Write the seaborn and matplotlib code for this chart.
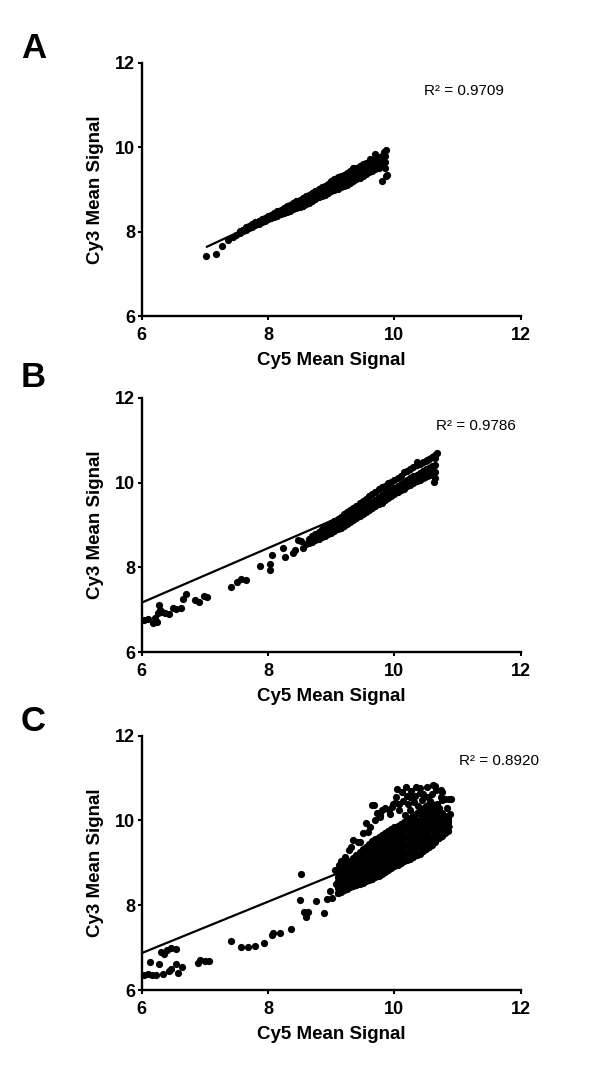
import matplotlib
matplotlib.use("Agg")
import matplotlib.pyplot as plt
import seaborn as sns
import pandas as pd

# ---------------- Panel A ----------------
a_band_cy5 = [7.55, 7.60, 7.65, 7.70, 7.75, 7.80, 7.85, 7.90, 7.95, 8.00,
              8.05, 8.10, 8.15, 8.20, 8.25, 8.30, 8.35, 8.40, 8.45, 8.50,
              8.55, 8.60, 8.65, 8.70, 8.75, 8.80, 8.85, 8.90, 8.95, 9.00,
              9.05, 9.10, 9.15, 9.20, 9.25, 9.30, 9.35, 9.40, 9.45, 9.50,
              9.55, 9.60, 9.65, 9.70, 9.75, 9.80, 9.85]
a_band_lo = [7.97, 8.01, 8.05, 8.08, 8.12, 8.15, 8.18, 8.22, 8.26, 8.29,
             8.32, 8.35, 8.38, 8.41, 8.45, 8.47, 8.50, 8.53, 8.56, 8.59,
             8.62, 8.66, 8.69, 8.73, 8.77, 8.81, 8.85, 8.88, 8.92, 8.96,
             8.99, 9.02, 9.05, 9.08, 9.11, 9.15, 9.19, 9.24, 9.28, 9.33,
             9.37, 9.41, 9.44, 9.48, 9.52, 9.55, 9.50]
a_band_mid = [7.99, 8.03, 8.07, 8.11, 8.15, 8.18, 8.22, 8.26, 8.30, 8.33,
              8.36, 8.40, 8.43, 8.47, 8.50, 8.53, 8.57, 8.60, 8.63, 8.67,
              8.70, 8.73, 8.77, 8.81, 8.85, 8.88, 8.92, 8.96, 9.00, 9.04,
              9.08, 9.12, 9.15, 9.19, 9.23, 9.29, 9.32, 9.36, 9.40, 9.45,
              9.49, 9.53, 9.56, 9.60, 9.64, 9.67, 9.65]
a_band_hi = [8.01, 8.05, 8.10, 8.14, 8.18, 8.22, 8.26, 8.30, 8.33, 8.36,
             8.40, 8.44, 8.48, 8.52, 8.56, 8.60, 8.63, 8.67, 8.72, 8.76,
             8.80, 8.84, 8.87, 8.91, 8.96, 9.01, 9.05, 9.09, 9.14, 9.21,
             9.25, 9.27, 9.31, 9.35, 9.40, 9.44, 9.47, 9.51, 9.56, 9.60,
             9.63, 9.66, 9.70, 9.73, 9.77, 9.79, 9.80]
a_extra_cy5 = [7.02, 7.18, 7.28, 7.36, 7.45, 7.50, 9.81, 9.88, 9.86, 9.87,
               9.69, 9.84, 9.62, 9.35, 9.10]
a_extra_cy3 = [7.43, 7.47, 7.67, 7.80, 7.88, 7.93, 9.19, 9.35, 9.33, 9.93,
               9.85, 9.88, 9.72, 9.52, 9.30]
a_fit_cy5 = [7.03, 9.85]
a_fit_cy3 = [7.64, 9.60]

# ---------------- Panel B ----------------
b_band_cy5 = [8.65, 8.70, 8.75, 8.80, 8.85, 8.90, 8.95, 9.00, 9.05, 9.10,
              9.15, 9.20, 9.25, 9.30, 9.35, 9.40, 9.45, 9.50, 9.55, 9.60,
              9.65, 9.70, 9.75, 9.80, 9.85, 9.90, 9.95, 10.00, 10.05, 10.10,
              10.15, 10.20, 10.25, 10.30, 10.35, 10.40, 10.45, 10.50, 10.55, 10.60, 10.65]
b_band_lo = [8.58, 8.61, 8.65, 8.68, 8.71, 8.74, 8.78, 8.82, 8.86, 8.90,
             8.94, 8.98, 9.03, 9.08, 9.12, 9.17, 9.22, 9.27, 9.31, 9.35,
             9.40, 9.44, 9.49, 9.53, 9.58, 9.63, 9.68, 9.72, 9.77, 9.82,
             9.86, 9.91, 9.95, 9.99, 10.03, 10.07, 10.11, 10.15, 10.18, 10.22, 10.26]
b_band_mid = [8.63, 8.67, 8.72, 8.76, 8.80, 8.85, 8.89, 8.93, 8.97, 9.02,
              9.07, 9.11, 9.16, 9.21, 9.25, 9.30, 9.35, 9.40, 9.45, 9.50,
              9.55, 9.60, 9.65, 9.70, 9.75, 9.79, 9.84, 9.88, 9.93, 9.97,
              10.02, 10.06, 10.11, 10.15, 10.19, 10.23, 10.28, 10.32, 10.35, 10.38, 10.42]
b_band_hi = [8.68, 8.73, 8.79, 8.84, 8.90, 8.96, 9.01, 9.05, 9.10, 9.15,
             9.20, 9.26, 9.31, 9.36, 9.41, 9.46, 9.52, 9.57, 9.62, 9.68,
             9.73, 9.78, 9.84, 9.89, 9.93, 9.98, 10.02, 10.07, 10.12, 10.16,
             10.24, 10.28, 10.33, 10.37, 10.41, 10.45, 10.49, 10.52, 10.56, 10.60, 10.64]
b_extra_cy5 = [6.04, 6.10, 6.18, 6.21, 6.24, 6.26, 6.27, 6.29, 6.32, 6.37,
               6.44, 6.50, 6.55, 6.63, 6.66, 6.71, 6.84, 6.91, 6.99, 7.04,
               7.42, 7.51, 7.58, 7.65, 7.88, 8.03, 8.03, 8.07, 8.27, 8.23,
               8.40, 8.43, 8.53, 8.48, 8.56, 8.60,
               10.62, 10.64, 10.67, 10.64, 10.51, 10.35]
b_extra_cy3 = [6.76, 6.78, 6.68, 6.82, 6.72, 6.92, 7.11, 6.99, 6.95, 6.92,
               6.90, 7.04, 7.01, 7.04, 7.25, 7.37, 7.23, 7.19, 7.33, 7.31,
               7.55, 7.65, 7.72, 7.70, 8.03, 8.07, 7.95, 8.29, 8.25, 8.45,
               8.33, 8.40, 8.63, 8.64, 8.47, 8.55,
               10.02, 10.10, 10.69, 10.57, 10.53, 10.49]
b_fit_cy5 = [6.00, 10.65]
b_fit_cy3 = [7.17, 10.16]

# ---------------- Panel C ----------------
c_core_cy5 = [9.10, 9.15, 9.20, 9.25, 9.30, 9.35, 9.40, 9.45, 9.50, 9.55,
              9.60, 9.65, 9.70, 9.75, 9.80, 9.85, 9.90, 9.95, 10.00, 10.05,
              10.10, 10.15, 10.20, 10.25, 10.30, 10.35, 10.40, 10.45, 10.50, 10.55,
              10.60, 10.65, 10.70, 10.75, 10.80, 10.85]
c_core_l1 = [8.30, 8.32, 8.35, 8.38, 8.42, 8.45, 8.48, 8.50, 8.53, 8.57,
             8.60, 8.63, 8.66, 8.70, 8.74, 8.78, 8.82, 8.87, 8.92, 8.96,
             9.00, 9.04, 9.07, 9.10, 9.14, 9.18, 9.22, 9.27, 9.32, 9.37,
             9.42, 9.50, 9.58, 9.64, 9.70, 9.76]
c_core_l2 = [8.40, 8.44, 8.47, 8.50, 8.54, 8.57, 8.62, 8.65, 8.69, 8.73,
             8.77, 8.81, 8.84, 8.88, 8.92, 8.96, 9.01, 9.06, 9.11, 9.15,
             9.19, 9.23, 9.26, 9.30, 9.34, 9.38, 9.42, 9.47, 9.53, 9.57,
             9.62, 9.68, 9.73, 9.77, 9.80, 9.84]
c_core_l3 = [8.50, 8.55, 8.58, 8.62, 8.67, 8.71, 8.76, 8.80, 8.85, 8.89,
             8.94, 8.98, 9.02, 9.06, 9.10, 9.15, 9.19, 9.24, 9.29, 9.33,
             9.37, 9.42, 9.45, 9.50, 9.54, 9.58, 9.62, 9.67, 9.73, 9.78,
             9.82, 9.86, 9.88, 9.90, 9.90, 9.90]
c_core_l4 = [8.58, 8.65, 8.70, 8.75, 8.80, 8.85, 8.90, 8.95, 9.00, 9.06,
             9.11, 9.16, 9.20, 9.25, 9.29, 9.33, 9.38, 9.43, 9.48, 9.52,
             9.56, 9.61, 9.64, 9.69, 9.73, 9.78, 9.82, 9.88, 9.94, 9.98,
             10.01, 10.03, 10.02, 10.02, 9.98, 9.96]
c_core_l5 = [8.66, 8.76, 8.82, 8.88, 8.93, 8.98, 9.04, 9.10, 9.16, 9.22,
             9.28, 9.34, 9.39, 9.43, 9.47, 9.52, 9.56, 9.61, 9.66, 9.70,
             9.74, 9.79, 9.83, 9.88, 9.92, 9.97, 10.02, 10.08, 10.14, 10.18,
             10.21, 10.20, 10.14, 10.12, 10.04, 10.01]
c_core_l6 = [8.75, 8.86, 8.95, 9.00, 9.05, 9.12, 9.18, 9.25, 9.32, 9.38,
             9.45, 9.51, 9.57, 9.61, 9.65, 9.70, 9.75, 9.80, 9.85, 9.88,
             9.92, 9.97, 10.02, 10.07, 10.12, 10.17, 10.22, 10.28, 10.35, 10.38,
             10.40, 10.35, 10.25, 10.18, 10.10, 10.05]
# in-between columns of the dense core
c_mid_cy5 = [9.125, 9.225, 9.325, 9.425, 9.525, 9.625, 9.725, 9.825, 9.925,
             10.025, 10.125, 10.225, 10.325, 10.425, 10.525, 10.625, 10.725, 10.825]
c_mid_m1 = [8.36, 8.42, 8.49, 8.56, 8.63, 8.70, 8.77, 8.85, 8.94,
            9.04, 9.12, 9.18, 9.26, 9.34, 9.45, 9.55, 9.68, 9.78]
c_mid_m2 = [8.47, 8.54, 8.62, 8.70, 8.79, 8.88, 8.95, 9.03, 9.12,
            9.22, 9.30, 9.38, 9.46, 9.54, 9.65, 9.75, 9.82, 9.86]
c_mid_m3 = [8.57, 8.66, 8.76, 8.85, 8.95, 9.05, 9.13, 9.22, 9.31,
            9.41, 9.49, 9.57, 9.66, 9.75, 9.86, 9.93, 9.96, 9.94]
c_mid_m4 = [8.66, 8.79, 8.89, 9.00, 9.11, 9.22, 9.32, 9.40, 9.49,
            9.59, 9.67, 9.76, 9.85, 9.95, 10.06, 10.11, 10.08, 10.00]
c_mid_m5 = [8.76, 8.91, 9.02, 9.14, 9.27, 9.40, 9.50, 9.58, 9.68,
            9.77, 9.85, 9.95, 10.04, 10.15, 10.26, 10.29, 10.17, 10.05]
c_extra_cy5 = [6.04, 6.10, 6.16, 6.23, 6.14, 6.28, 6.34, 6.30, 6.36, 6.40,
               6.47, 6.55, 6.44, 6.46, 6.55, 6.58, 6.64, 6.90, 6.92, 7.00,
               7.07, 7.42, 7.57, 7.69, 7.79, 7.94, 8.06, 8.08, 8.19, 8.37,
               8.51, 8.53, 8.57, 8.60, 8.64, 8.76, 8.89, 8.93, 9.01, 8.98,
               9.06, 9.13, 9.11, 9.08,
               10.04, 10.18, 10.34, 10.41, 10.51, 10.61, 10.73, 10.87, 10.76, 10.31,
               9.98, 9.80, 9.65, 9.77, 9.92, 10.07, 10.17, 10.55, 10.79, 10.70,
               10.58, 9.35, 9.72, 10.01, 10.64, 10.75, 10.90, 10.83, 9.59, 9.46,
               9.32, 9.68, 10.25, 10.45, 10.12, 10.22,
               9.70, 9.78, 9.85, 9.93, 9.96, 10.03, 10.08, 10.13, 10.20, 10.24,
               10.27, 10.33, 10.38, 10.40, 10.44, 10.47, 10.53, 10.57, 10.60, 10.66,
               10.68, 10.74, 10.80, 10.84, 10.88, 9.62, 9.55, 9.50, 9.42, 9.28,
               9.22, 9.15]
c_extra_cy3 = [6.35, 6.39, 6.36, 6.35, 6.67, 6.62, 6.39, 6.90, 6.86, 6.94,
               6.98, 6.96, 6.45, 6.49, 6.61, 6.41, 6.54, 6.64, 6.72, 6.69,
               6.69, 7.16, 7.01, 7.01, 7.04, 7.12, 7.30, 7.35, 7.34, 7.44,
               8.12, 8.73, 7.85, 7.73, 7.85, 8.11, 7.82, 8.14, 8.18, 8.34,
               8.83, 8.95, 8.28, 8.50,
               10.74, 10.78, 10.78, 10.76, 10.78, 10.84, 10.72, 10.50, 10.48, 10.44,
               10.40, 10.24, 10.36, 10.09, 10.24, 10.24, 10.12, 10.09, 10.09, 10.29,
               9.46, 9.55, 10.17, 10.42, 10.81, 10.68, 10.50, 10.05, 9.73, 9.50,
               9.38, 10.36, 10.55, 10.62, 10.66, 10.40,
               10.00, 10.12, 10.30, 10.15, 10.32, 10.55, 10.38, 10.47, 10.58, 10.25,
               10.70, 10.58, 10.35, 10.65, 10.48, 10.30, 10.55, 10.45, 10.62, 10.72,
               10.40, 10.55, 10.50, 10.30, 10.15, 9.85, 9.95, 9.70, 9.50, 9.30,
               9.15, 9.05]
c_fit_cy5 = [6.00, 10.91]
c_fit_cy3 = [6.87, 9.85]

r2_labels = ["R\u00b2 = 0.9709", "R\u00b2 = 0.9786", "R\u00b2 = 0.8920"]
r2_pos = [(10.47, 11.23), (10.66, 11.25), (11.02, 11.31)]
panel_letters = ["A", "B", "C"]


def stack(xs, *ys_lists):
    cy5, cy3 = [], []
    for ys in ys_lists:
        cy5 += list(xs)
        cy3 += list(ys)
    return cy5, cy3


sns.set_style("ticks", {"axes.edgecolor": "black", "xtick.color": "black",
                        "ytick.color": "black", "text.color": "black",
                        "axes.labelcolor": "black"})
plt.rcParams['font.family'] = ['Liberation Sans', 'DejaVu Sans']

fig = plt.figure(figsize=(6, 10.8), dpi=100)
rects = [[0.236, 0.7074, 0.632, 0.2343],
         [0.236, 0.3960, 0.632, 0.2357],
         [0.236, 0.0833, 0.632, 0.2355]]

a5, a3 = stack(a_band_cy5, a_band_lo, a_band_mid, a_band_hi)
b5, b3 = stack(b_band_cy5, b_band_lo, b_band_mid, b_band_hi)
c5, c3 = stack(c_core_cy5, c_core_l1, c_core_l2, c_core_l3, c_core_l4, c_core_l5, c_core_l6)
m5, m3 = stack(c_mid_cy5, c_mid_m1, c_mid_m2, c_mid_m3, c_mid_m4, c_mid_m5)
panels = [
    (a5 + a_extra_cy5, a3 + a_extra_cy3, a_fit_cy5, a_fit_cy3),
    (b5 + b_extra_cy5, b3 + b_extra_cy3, b_fit_cy5, b_fit_cy3),
    (c5 + m5 + c_extra_cy5, c3 + m3 + c_extra_cy3, c_fit_cy5, c_fit_cy3),
]
letter_y = [0.9463, 0.6417, 0.3231]

for i, (x, y, fx, fy) in enumerate(panels):
    ax = fig.add_axes(rects[i])
    df = pd.DataFrame({'Cy5': x, 'Cy3': y})
    sns.scatterplot(data=df, x='Cy5', y='Cy3', ax=ax, color='black', s=27,
                    linewidth=0, clip_on=False, zorder=3)
    sns.lineplot(x=fx, y=fy, ax=ax, color='black', linewidth=1.6, zorder=4)
    ax.set_xlim(6, 12)
    ax.set_ylim(6, 12)
    ax.set_xticks([6, 8, 10, 12])
    ax.set_yticks([6, 8, 10, 12])
    sns.despine(ax=ax)
    for sp in ['left', 'bottom']:
        ax.spines[sp].set_linewidth(1.7)
    ax.tick_params(axis='both', direction='out', length=2.8, width=1.5,
                   labelsize=13)
    ax.tick_params(axis='x', pad=5)
    ax.tick_params(axis='y', pad=2)
    for lab in ax.get_xticklabels() + ax.get_yticklabels():
        lab.set_fontweight('bold')
    ax.set_xlabel('Cy5 Mean Signal', fontsize=13.5, fontweight='bold', labelpad=6)
    ax.set_ylabel('Cy3 Mean Signal', fontsize=13.5, fontweight='bold', labelpad=8)
    ax.text(r2_pos[i][0], r2_pos[i][1], r2_labels[i], fontsize=11,
            ha='left', va='baseline', clip_on=False)
    fig.text(0.035, letter_y[i], panel_letters[i], fontsize=25,
             fontweight='bold', ha='left', va='baseline')

fig.savefig('out.png', dpi=100)
